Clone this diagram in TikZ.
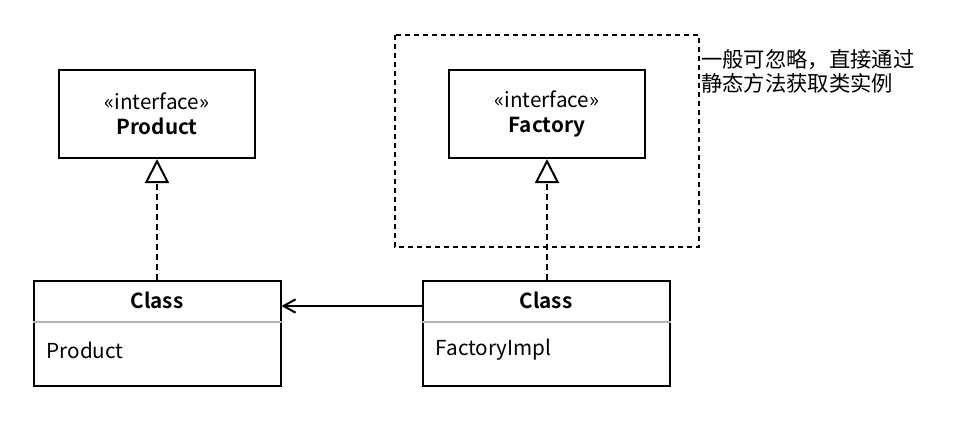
\documentclass[tikz,border=0pt]{standalone}
\usepackage{fontspec}
\setmainfont{Noto Sans CJK SC}[BoldFont={Noto Sans CJK SC Bold}]
\usetikzlibrary{positioning}
\usetikzlibrary{arrows.meta}

\tikzset{
    intf/.style={draw, line width=1.5pt, minimum width=147pt, minimum height=66pt, align=center, font=\fontsize{15.5}{18.75}\selectfont},
    classbox/.style={draw, line width=1.5pt, minimum width=185.25pt, minimum height=78.75pt},
    txt/.style={inner sep=0pt, font=\fontsize{15.5}{18}\selectfont},
    note/.style={inner sep=0pt, align=left, font=\fontsize{16}{18}\selectfont},
    divider/.style={draw=black!30, line width=1.5pt},
    realize/.style={line width=1.5pt, dash pattern=on 4.5pt off 3pt, -{Triangle[open, length=18pt, width=18pt, line width=1.5pt]}},
    assoc/.style={line width=1.5pt, -{Straight Barb[length=9pt, width=10pt, line width=1.5pt]}},
    frame/.style={line width=1.5pt, dash pattern=on 3.75pt off 3pt}
}

\begin{document}
\begin{tikzpicture}

    \useasboundingbox[fill=white] (0,0) rectangle (720pt,-322.5pt);

    %nodes
    \node[intf] at (117.75pt,-85.5pt) (pintf) {«interface»\\\textbf{Product}};
    \node[intf, right=144pt of pintf] (fintf) {«interface»\\\textbf{Factory}};
    \node[classbox, below=90.75pt of pintf] (pclass) {};
    \node[classbox, below=90.75pt of fintf, xshift=-0.75pt] (fclass) {};

    % class texts
    \node[txt, below=15pt of pclass.north, anchor=center] (ptitle) {\textbf{Class}};
    \node[txt, anchor=west] at ([xshift=10.5pt,yshift=-52.5pt]pclass.north west) (pbody) {Product};
    \node[txt, below=15pt of fclass.north, anchor=center] (ftitle) {\textbf{Class}};
    \node[txt, anchor=west] at ([xshift=10.5pt,yshift=-52.5pt]fclass.north west) (fbody) {FactoryImpl};
    \draw[divider] ([yshift=-31.5pt]pclass.north west) -- ([yshift=-31.5pt]pclass.north east);
    \draw[divider] ([yshift=-31.5pt]fclass.north west) -- ([yshift=-31.5pt]fclass.north east);

    % note
    \draw[frame] ([xshift=-39.75pt,yshift=25.5pt]fintf.north west) rectangle ([xshift=39.75pt,yshift=-66pt]fintf.south east);
    \node[note, anchor=north west] at ([xshift=41.25pt,yshift=15pt]fintf.north east) (notetext) {一般可忽略，直接通过\\静态方法获取类实例};

    % edges
    \draw[realize] (pclass) -- (pintf);
    \draw[realize] (fclass.north -| fintf.south) -- (fintf);
    \draw[assoc] ([yshift=-19.5pt]fclass.north west) -- ([yshift=-19.5pt]pclass.north east);

\end{tikzpicture}
\end{document}
